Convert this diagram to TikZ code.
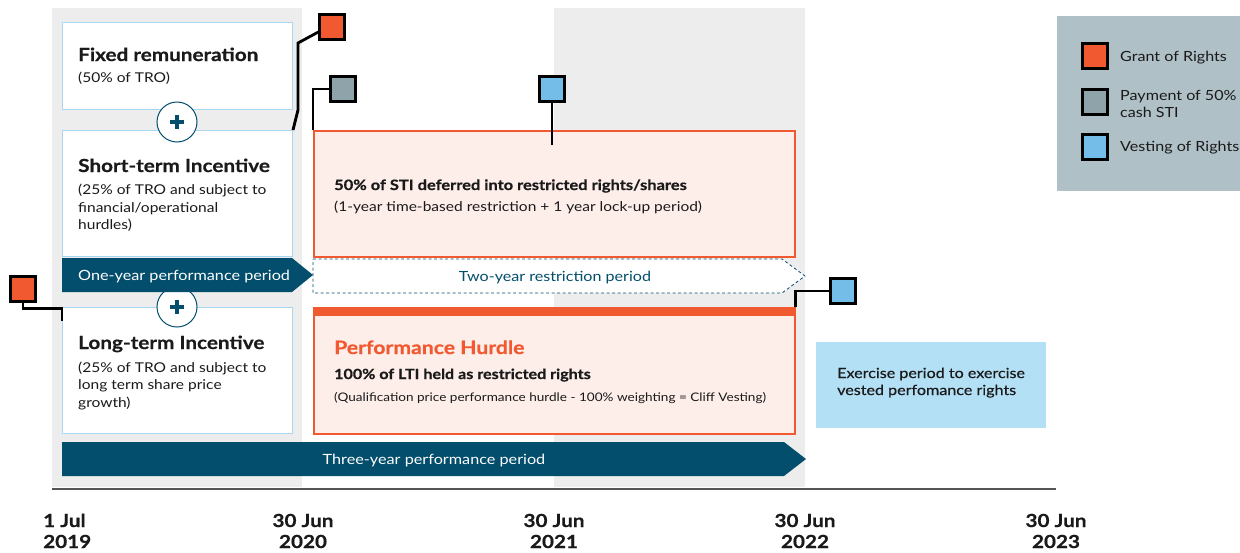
\documentclass[tikz,border=0pt]{standalone}
\usepackage{fontspec}
\setmainfont{Lato}[FakeStretch=1.15, BoldFeatures={FakeBold=0.6}]
\usetikzlibrary{calc}

\definecolor{ink}{HTML}{1A1A1A}
\definecolor{teal}{HTML}{024E6C}
\definecolor{orng}{HTML}{F15A31}
\definecolor{blush}{HTML}{FDEEEA}
\definecolor{band}{HTML}{EDEDED}
\definecolor{edgeblue}{HTML}{A9D6F0}
\definecolor{legendbg}{HTML}{AFC0C6}
\definecolor{stigray}{HTML}{8FA3AB}
\definecolor{vestblue}{HTML}{74BDE8}
\definecolor{exfill}{HTML}{B3E0F5}
\definecolor{axisgray}{HTML}{555555}

\tikzset{
  bandbox/.style={fill=band, draw=none},
  wbox/.style={rectangle, draw=edgeblue, line width=1pt, fill=white, anchor=north west, inner sep=0},
  obox/.style={rectangle, draw=orng, line width=1.5pt, fill=blush, anchor=north west, inner sep=0},
  exbox/.style={rectangle, draw=none, fill=exfill, anchor=north west, inner sep=0},
  legbox/.style={rectangle, draw=none, fill=legendbg, anchor=north west, inner sep=0},
  marker/.style={rectangle, draw=black, line width=2.8pt, minimum size=24.5pt, inner sep=0},
  lead/.style={draw=black, line width=2.8pt},
  plusmark/.style={circle, draw=teal, line width=1pt, fill=white, minimum size=40pt, inner sep=0,
    path picture={
      \draw[teal, line width=3.6pt] ([xshift=-7pt]path picture bounding box.center) -- ([xshift=7pt]path picture bounding box.center);
      \draw[teal, line width=3.6pt] ([yshift=-7pt]path picture bounding box.center) -- ([yshift=7pt]path picture bounding box.center);
    }},
  title/.style={anchor=base west, inner sep=0, text=ink, font=\fontsize{18}{20}\selectfont\bfseries},
  sub/.style={anchor=base west, inner sep=0, text=ink, font=\fontsize{13.5}{16}\selectfont},
  boldline/.style={anchor=base west, inner sep=0, text=ink, font=\fontsize{14.3}{16}\selectfont\bfseries},
  barlabel/.style={anchor=base, inner sep=0, text=white, font=\fontsize{14.1}{17}\selectfont},
  datelabel/.style={anchor=base, inner sep=0, text=ink, font=\fontsize{18}{21}\selectfont\bfseries},
  legtext/.style={anchor=base west, inner sep=0, text=ink, font=\fontsize{14}{17}\selectfont},
  extext/.style={anchor=base west, inner sep=0, text=ink, font=\fontsize{14}{17}\selectfont\addfontfeature{FakeBold=0.4}},
}

\begin{document}
\begin{tikzpicture}[x=1pt, y=-1pt]
\useasboundingbox (0,0) rectangle (1240,552);

% year bands
\fill[bandbox] (52,8) rectangle (302,487);
\fill[bandbox] (554,8) rectangle (805,487);

% timeline axis
\draw[axisgray, line width=2pt] (52,489) -- (1056,489);

% remuneration components
\node[wbox, minimum width=230pt, minimum height=87pt] (fixed) at (62,22) {};
\node[title] (fixedT) at (78,61) {Fixed remuneration};
\node[sub] (fixedS) at (78,82) {(50\% of TRO)};

\node[wbox, minimum width=230pt, minimum height=126pt] (sti) at (62,130) {};
\node[title] (stiT) at (78,172) {Short-term Incentive};
\node[sub] (stiS1) at (78,194) {(25\% of TRO and subject to};
\node[sub] (stiS2) at (78,212) {financial/operational};
\node[sub] (stiS3) at (78,229) {hurdles)};

\node[wbox, minimum width=230pt, minimum height=126pt] (lti) at (62,307) {};
\node[title] (ltiT) at (78,349) {Long-term Incentive};
\node[sub] (ltiS1) at (78,372) {(25\% of TRO and subject to};
\node[sub] (ltiS2) at (78,389) {long term share price};
\node[sub] (ltiS3) at (78,407) {growth)};

\node[plusmark] (plusA) at (177,122) {};
\node[plusmark] (plusB) at (177,307) {};

% period bars
\fill[teal] (62,258) -- (292,258) -- (313,275) -- (292,292) -- (62,292) -- cycle;
\node[barlabel, anchor=base west] (oneyr) at (78,280) {One-year performance period};

\draw[teal, line width=0.8pt, dash pattern=on 3pt off 2.5pt, fill=white]
  (313,259) -- (782,259) -- (805,276) -- (782,293) -- (313,293) -- cycle;
\node[barlabel, text=teal, font=\fontsize{14}{17}\selectfont] (twoyr) at (555,281) {Two-year restriction period};

\fill[teal] (62,442) -- (784,442) -- (806,459) -- (784,476) -- (62,476) -- cycle;
\node[barlabel] (threeyr) at (434,464) {Three-year performance period};

% deferred STI
\node[obox, minimum width=481pt, minimum height=126pt] (stid) at (313,130) {};
\node[boldline] (stidT) at (334,190) {50\% of STI deferred into restricted rights/shares};
\node[sub] (stidS) at (334,211) {(1-year time-based restriction + 1 year lock-up period)};

% performance hurdle
\node[obox, minimum width=481pt, minimum height=126pt] (perf) at (313,307) {};
\fill[orng] (perf.north west) rectangle ($(perf.north east)+(0,9)$);
\node[title, text=orng, font=\fontsize{18.4}{20}\selectfont\bfseries] (perfT) at (334,354) {Performance Hurdle};
\node[boldline, font=\fontsize{14}{16}\selectfont\bfseries] (perfB) at (334,379) {100\% of LTI held as restricted rights};
\node[sub, font=\fontsize{11.8}{14}\selectfont] (perfS) at (334,401) {(Qualification price performance hurdle - 100\% weighting = Cliff Vesting)};

% exercise period
\node[exbox, minimum width=230pt, minimum height=86pt] (ex) at (816,342) {};
\node[extext] (exT1) at (837,378) {Exercise period to exercise};
\node[extext] (exT2) at (837,395) {vested perfomance rights};

% event markers
\node[marker, fill=orng] (grantA) at (332,27) {};
\node[marker, fill=stigray] (cash) at (343,89) {};
\node[marker, fill=vestblue] (vestA) at (552,89) {};
\node[marker, fill=vestblue] (vestB) at (843,291) {};
\node[marker, fill=orng] (grantB) at (23,289) {};

\coordinate (vestAend) at (552,145);
\coordinate (ltiTick) at (62,321);

\draw[lead] ([yshift=-5pt]grantA.west) -- (298,43) -- (298,110) -- (sti.north east);
\draw[lead] (cash.west) -| (stid.north west);
\draw[lead] (vestA.south) -- (vestAend);
\draw[lead] (vestB.west) -| (perf.north east);
\draw[lead] (grantB.south) -- ++(0,6) -| (ltiTick);

% legend
\node[legbox, minimum width=183pt, minimum height=175pt] (legend) at (1057,16) {};
\node[marker, fill=orng] (legA) at (1095,56) {};
\node[marker, fill=stigray] (legB) at (1095,102) {};
\node[marker, fill=vestblue] (legC) at (1095,147) {};
\node[legtext] (legAT) at (1120,61) {Grant of Rights};
\node[legtext] (legBT1) at (1120,100) {Payment of 50\%};
\node[legtext] (legBT2) at (1120,117) {cash STI};
\node[legtext] (legCT) at (1120,151) {Vesting of Rights};

% dates
\node[datelabel, anchor=base west] (d2019a) at (43,527) {1 Jul};
\node[datelabel, anchor=base west] (d2019b) at (43,548) {2019};
\node[datelabel] (d2020a) at (303,527) {30 Jun};
\node[datelabel] (d2020b) at (303,548) {2020};
\node[datelabel] (d2021a) at (554,527) {30 Jun};
\node[datelabel] (d2021b) at (554,548) {2021};
\node[datelabel] (d2022a) at (805,527) {30 Jun};
\node[datelabel] (d2022b) at (805,548) {2022};
\node[datelabel] (d2023a) at (1056,527) {30 Jun};
\node[datelabel] (d2023b) at (1056,548) {2023};
\end{tikzpicture}
\end{document}
